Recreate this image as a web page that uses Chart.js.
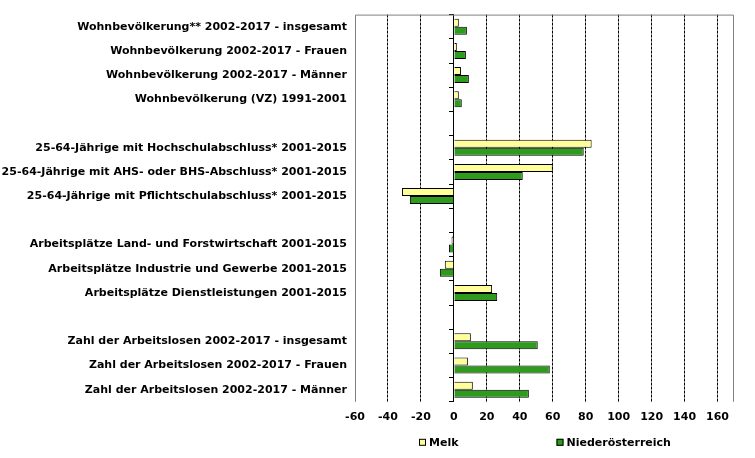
<!DOCTYPE html>
<html>
<head>
<meta charset="utf-8">
<script src="https://cdn.jsdelivr.net/npm/chart.js@4/dist/chart.umd.min.js"></script>
<style>
  html, body { margin: 0; padding: 0; background: #fff; }
  #wrap { width: 755px; height: 458px; }
</style>
</head>
<body>
<div id="wrap"><canvas id="diffChart"></canvas></div>
<script>
var categories = [
  "Wohnbevölkerung** 2002-2017 - insgesamt",
  "Wohnbevölkerung 2002-2017 - Frauen",
  "Wohnbevölkerung 2002-2017 - Männer",
  "Wohnbevölkerung (VZ) 1991-2001",
  "",
  "25-64-Jährige mit Hochschulabschluss* 2001-2015",
  "25-64-Jährige mit AHS- oder BHS-Abschluss* 2001-2015",
  "25-64-Jährige mit Pflichtschulabschluss* 2001-2015",
  "",
  "Arbeitsplätze Land- und Forstwirtschaft 2001-2015",
  "Arbeitsplätze Industrie und Gewerbe 2001-2015",
  "Arbeitsplätze Dienstleistungen 2001-2015",
  "",
  "Zahl der Arbeitslosen 2002-2017 - insgesamt",
  "Zahl der Arbeitslosen 2002-2017 - Frauen",
  "Zahl der Arbeitslosen 2002-2017 - Männer"
]
var seriesNames = ["Melk", "Niederösterreich"]
var melk = [3.0, 1.8, 4.3, 3.0, null, 83.6, 60.0, -31.5, null, -1.4, -5.5, 23.2, null, 10.3, 8.5, 11.5]
var noe  = [7.9, 7.3, 9.1, 4.8, null, 78.8, 41.8, -26.7, null, -3.0, -8.5, 26.3, null, 50.9, 58.2, 45.5]
var xTicks = [-60, -40, -20, 0, 20, 40, 60, 80, 100, 120, 140, 160]
var xMin = -60
var xMax = 170

var FONT = 'DejaVu Sans'

// grauer Rahmen oben/links/rechts (unten keiner)
var framePlugin = {
  id: 'frame',
  afterDraw: function(chart){
    var a = chart.chartArea
    var ctx = chart.ctx
    ctx.save()
    ctx.strokeStyle = '#808080'
    ctx.lineWidth = 1
    ctx.beginPath()
    ctx.moveTo(a.left + 0.5, a.bottom)
    ctx.lineTo(a.left + 0.5, a.top + 0.5)
    ctx.lineTo(a.right - 0.5, a.top + 0.5)
    ctx.lineTo(a.right - 0.5, a.bottom)
    ctx.stroke()
    ctx.restore()
  }
}

// Legende unter der Grafik, zentriert auf die Zeichenfläche
var legendPlugin = {
  id: 'miniLegend',
  afterDraw: function(chart){
    var a = chart.chartArea
    var ctx = chart.ctx
    var box = 7, gap = 3, itemGap = 98
    ctx.save()
    ctx.font = 'bold 11px ' + FONT
    ctx.textBaseline = 'middle'
    var widths = chart.data.datasets.map(function(ds){
      return box + gap + ctx.measureText(ds.label).width
    })
    var total = widths.reduce(function(s, w){ return s + w }, 0) + itemGap * (widths.length - 1)
    var x = Math.round((a.left + a.right) / 2 - total / 2)
    var y = a.bottom + 40
    chart.data.datasets.forEach(function(ds, i){
      ctx.fillStyle = ds.backgroundColor
      ctx.fillRect(x, y - 3, box, box)
      ctx.strokeStyle = '#000'
      ctx.lineWidth = 1
      ctx.strokeRect(x + 0.5, y - 2.5, box - 1, box - 1)
      ctx.fillStyle = '#000'
      ctx.fillText(ds.label, x + box + gap, y + 1)
      x += widths[i] + itemGap
    })
    ctx.restore()
  }
}

var ctx = document.getElementById('diffChart').getContext('2d')
var myChart = new Chart(ctx, {
  type: 'bar',
  plugins: [framePlugin, legendPlugin],
  data: {
    labels: categories,
    datasets: [{
      label: seriesNames[0],
      data: melk,
      backgroundColor: '#ffff99',
      borderColor: '#000',
      borderWidth: 1,
      categoryPercentage: 0.66,
      barPercentage: 1.0
    }, {
      label: seriesNames[1],
      data: noe,
      backgroundColor: '#2e9a1e',
      borderColor: '#000',
      borderWidth: 1,
      categoryPercentage: 0.66,
      barPercentage: 1.0
    }]
  },
  options: {
    indexAxis: 'y',
    responsive: true,
    maintainAspectRatio: false,
    animation: false,
    layout: {
      padding: { left: 2, right: 21, top: 12, bottom: 25 }
    },
    plugins: {
      legend: { display: false },
      tooltip: { enabled: false }
    },
    scales: {
      x: {
        type: 'linear',
        min: xMin,
        max: xMax,
        afterBuildTicks: function(scale){
          scale.ticks = xTicks.map(function(v){ return { value: v } })
        },
        border: { display: false, dash: [3, 1] },
        grid: {
          drawTicks: false,
          lineWidth: 1,
          color: function(c){
            var v = c.tick ? c.tick.value : null
            if (v === xMin || v === xMax) return 'rgba(0,0,0,0)'
            return '#000'
          }
        },
        ticks: {
          padding: 9,
          color: '#000',
          font: { family: FONT, size: 11, weight: 'bold' }
        }
      },
      y: {
        type: 'category',
        position: 'left',
        offset: true,
        border: { display: false },
        grid: { display: false, drawTicks: false },
        ticks: {
          padding: 8,
          color: '#000',
          autoSkip: false,
          font: { family: FONT, size: 11, weight: 'bold' }
        },
        afterFit: function(scale){ scale.width = 353 }
      },
      y0: {
        type: 'category',
        position: { x: 0 },
        offset: true,
        border: { display: true, color: '#000', width: 1 },
        grid: {
          offset: true,
          drawOnChartArea: false,
          drawTicks: true,
          tickLength: 4,
          tickColor: '#000'
        },
        ticks: { display: false }
      }
    }
  }
});
</script>
</body>
</html>
